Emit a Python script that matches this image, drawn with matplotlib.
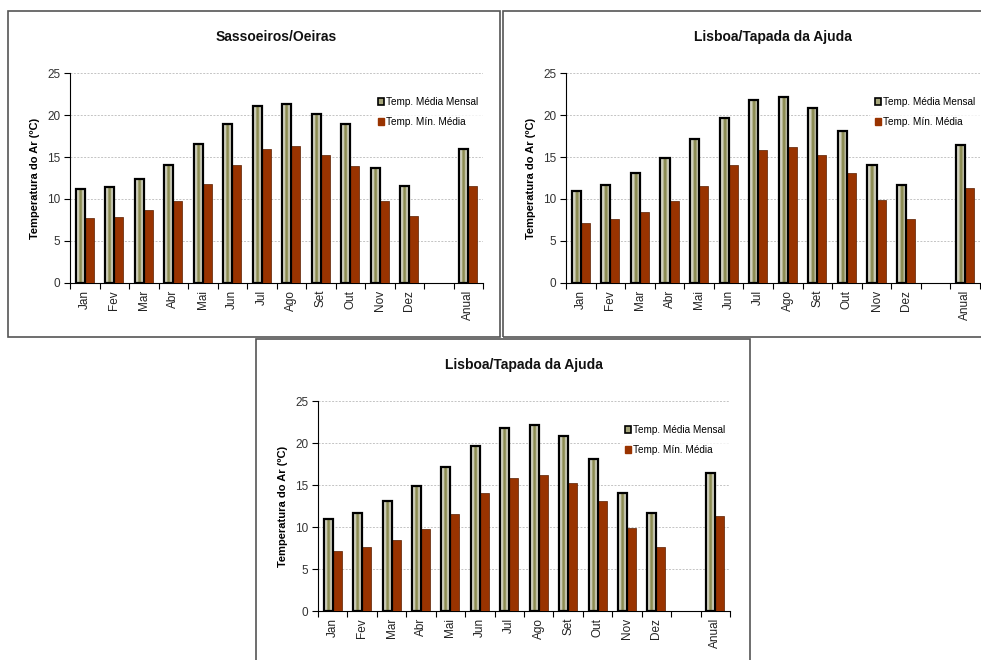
import numpy as np
import matplotlib
matplotlib.use("Agg")
from matplotlib import pyplot as plt
from matplotlib.patches import Rectangle
from matplotlib.colors import LinearSegmentedColormap

plt.rcParams['font.family'] = ['Liberation Sans', 'DejaVu Sans']

months = ['Jan', 'Fev', 'Mar', 'Abr', 'Mai', 'Jun', 'Jul', 'Ago', 'Set', 'Out', 'Nov', 'Dez']
labels = months + ['', 'Anual']

# Sassoeiros/Oeiras
oeiras_media = [11.2, 11.4, 12.4, 14.0, 16.5, 18.9, 21.1, 21.3, 20.1, 18.9, 13.7, 11.5]
oeiras_media_anual = 16.0
oeiras_min = [7.7, 7.9, 8.7, 9.8, 11.8, 14.1, 15.9, 16.3, 15.2, 13.9, 9.8, 8.0]
oeiras_min_anual = 11.5

# Lisboa/Tapada da Ajuda
lisboa_media = [11.0, 11.7, 13.1, 14.9, 17.1, 19.6, 21.8, 22.2, 20.8, 18.1, 14.1, 11.7]
lisboa_media_anual = 16.4
lisboa_min = [7.1, 7.6, 8.5, 9.8, 11.6, 14.0, 15.8, 16.2, 15.2, 13.1, 9.9, 7.6]
lisboa_min_anual = 11.3

grad = LinearSegmentedColormap.from_list(
    'barra', [(0, '#e6e6e0'), (0.3, '#cdcdb8'), (0.42, '#8c8c52'), (0.6, '#8c8c52'),
              (0.74, '#cdcdb8'), (1, '#e2e2da')])
brown = '#993300'
W = 981
H = 660


def px(x0, y0, x1, y1):
    # pixel box (from top-left) -> figure fraction rect
    return [x0 / W, 1 - y1 / H, (x1 - x0) / W, (y1 - y0) / H]


def painel(fig, rect, title, media, media_anual, minima, minima_anual):
    ax = fig.add_axes(rect)
    x = np.array(list(range(12)) + [13])
    v_media = media + [media_anual]
    v_min = minima + [minima_anual]
    w = 0.305

    bars = ax.bar(x - w / 2, v_media, w, facecolor='none', edgecolor='black',
                  linewidth=1.6, zorder=4)
    g = np.linspace(0, 1, 64).reshape(1, -1)
    for b in bars:
        im = ax.imshow(g, cmap=grad, aspect='auto', zorder=3,
                       extent=[b.get_x(), b.get_x() + b.get_width(), 0, b.get_height()])
        im.set_clip_path(b)
    ax.bar(x + w / 2, v_min, w, color=brown, edgecolor='#5a1e00', linewidth=0.5, zorder=3)

    ax.set_xlim(-0.5, 13.5)
    ax.set_ylim(0, 25)
    ax.set_yticks([0, 5, 10, 15, 20, 25])
    ax.set_xticks(range(14))
    ax.set_xticklabels(labels, rotation=90, fontsize=8.5, color='#222222')
    ax.set_xticks(np.arange(-0.5, 14, 1), minor=True)
    ax.tick_params(axis='x', which='major', length=0, pad=5)
    ax.tick_params(axis='x', which='minor', length=4, width=0.8, direction='out')
    ax.tick_params(axis='y', length=4, width=0.8, labelsize=8.5, pad=3)
    for lab in ax.get_yticklabels():
        lab.set_color('#333333')
    ax.grid(axis='y', color='#c4c4c4', linestyle=(0, (2, 1.5)), linewidth=0.7, zorder=0)
    ax.set_axisbelow(True)
    for s in ['top', 'right']:
        ax.spines[s].set_visible(False)
    for s in ['left', 'bottom']:
        ax.spines[s].set_linewidth(0.8)
    ax.set_ylabel('Temperatura do Ar (ºC)', fontsize=8, fontweight='bold', labelpad=5)
    ax.set_title(title, fontsize=10, fontweight='bold', pad=23, color='#111111')

    handles = [Rectangle((0, 0), 1, 1, facecolor='#a5a57a', edgecolor='black', linewidth=1.2),
               Rectangle((0, 0), 1, 1, facecolor=brown, edgecolor=brown)]
    leg = ax.legend(handles, ['Temp. Média Mensal', 'Temp. Mín. Média'],
                    loc='upper right', bbox_to_anchor=(1.0, 0.91), fontsize=7.2,
                    frameon=True, fancybox=False, handlelength=0.6, handleheight=0.6,
                    handletextpad=0.2, labelspacing=1.0, borderpad=0.5,
                    borderaxespad=0)
    leg.get_frame().set_edgecolor('white')
    leg.get_frame().set_linewidth(0)
    leg.set_zorder(5)
    return ax


fig = plt.figure(figsize=(9.81, 6.60), dpi=100)
fig.patch.set_facecolor('white')

# panel frames
for (x0, y0, x1, y1) in [(8, 11, 500, 337), (503, 11, 990, 337), (256, 339, 750, 670)]:
    r = px(x0, y0, x1, y1)
    fig.add_artist(Rectangle((r[0], r[1]), r[2], r[3], transform=fig.transFigure,
                             facecolor='none', edgecolor='#555555', linewidth=1.2))

painel(fig, px(70, 73, 483, 283), 'Sassoeiros/Oeiras',
       oeiras_media, oeiras_media_anual, oeiras_min, oeiras_min_anual)
painel(fig, px(566, 73, 980, 283), 'Lisboa/Tapada da Ajuda',
       lisboa_media, lisboa_media_anual, lisboa_min, lisboa_min_anual)
painel(fig, px(318, 401, 730, 611), 'Lisboa/Tapada da Ajuda',
       lisboa_media, lisboa_media_anual, lisboa_min, lisboa_min_anual)

fig.savefig('out.png', dpi=100)
